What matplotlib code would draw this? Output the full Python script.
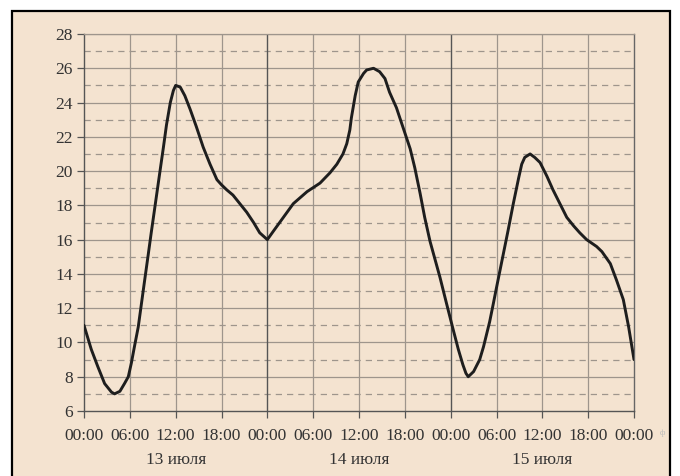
import matplotlib
matplotlib.use("Agg")
import matplotlib.pyplot as plt
from matplotlib.patches import Rectangle
from matplotlib.ticker import MultipleLocator, FixedLocator
import matplotlib.transforms as mtransforms

# ---- data (hours since 13 July 00:00, temperature) ----
hours = [0, 0.95, 1.8, 2.7, 3.6, 4.0, 4.7, 5.3, 5.8, 6.2, 6.6, 7.1, 7.5, 7.9,
         8.4, 8.8, 9.95, 10.4, 10.8, 11.3, 11.7, 12.0, 12.6, 13.2, 13.9, 14.7,
         15.6, 16.5, 17.4, 18.0, 18.7, 19.5, 20.4, 21.3, 22.2, 23.0, 24.0,
         24.8, 26.1, 27.4, 29.2, 30.9, 32.2, 33.1, 33.9, 34.4, 34.8, 35.0,
         35.5, 35.9, 36.6, 37.0, 37.9, 38.7, 39.4, 40.0, 40.9, 41.8, 42.7,
         43.3, 44.0, 44.6, 45.3, 46.6, 47.5, 48.3, 49.0, 49.6, 50.0, 50.3,
         51.0, 51.8, 52.3, 53.1, 53.6, 54.0, 54.5, 55.0, 55.5, 56.2, 56.9,
         57.3, 57.7, 58.4, 59.0, 59.7, 60.6, 61.4, 62.3, 63.2, 64.1, 64.9,
         65.8, 67.1, 67.8, 68.9, 69.7, 70.6, 71.3, 72.0]
temps = [11.0, 9.6, 8.6, 7.6, 7.1, 7.0, 7.15, 7.6, 8.0, 8.8, 9.75, 10.9, 12.2, 13.5,
         15.1, 16.4, 20.0, 21.4, 22.7, 24.0, 24.7, 25.0, 24.9, 24.4, 23.6, 22.6,
         21.4, 20.4, 19.5, 19.2, 18.9, 18.6, 18.1, 17.6, 17.0, 16.4, 16.0,
         16.5, 17.3, 18.1, 18.8, 19.3, 19.9, 20.4, 21.0, 21.6, 22.4, 23.1,
         24.4, 25.2, 25.7, 25.9, 26.0, 25.8, 25.4, 24.6, 23.7, 22.5, 21.3,
         20.2, 18.7, 17.3, 15.9, 13.8, 12.2, 10.8, 9.6, 8.7, 8.2, 8.0,
         8.3, 9.0, 9.75, 11.2, 12.3, 13.2, 14.3, 15.4, 16.5, 18.1, 19.6,
         20.4, 20.8, 21.0, 20.8, 20.5, 19.7, 18.9, 18.1, 17.3, 16.8, 16.4,
         16.0, 15.6, 15.3, 14.6, 13.65, 12.5, 10.9, 9.0]
xtick_labels = ["00:00", "06:00", "12:00", "18:00", "00:00", "06:00", "12:00",
                "18:00", "00:00", "06:00", "12:00", "18:00", "00:00"]
day_labels = ["13 июля", "14 июля", "15 июля"]
day_centers = [12, 36, 60]

W, H = 680, 476
BG = "#F4E3D0"
GRID = "#9E958C"
TXT = "#333333"
FONT = ["Liberation Serif", "DejaVu Serif"]
FS = 12.5

fig = plt.figure(figsize=(W / 100, H / 100), dpi=100)
fig.patch.set_facecolor("white")

rect = Rectangle((12 / W, -0.05), (670 - 12) / W, 1 - 11 / H + 0.05,
                 transform=fig.transFigure, facecolor=BG, edgecolor="black",
                 linewidth=1.6, zorder=-10)
fig.patches.append(rect)

ax = fig.add_axes([84 / W, 65 / H, 550 / W, 377 / H])
ax.set_facecolor(BG)

ax.set_xlim(0, 72)
ax.set_ylim(6, 28)

# grid: solid at even, dashed at odd
for v in range(8, 29, 2):
    ax.axhline(v, color=GRID, lw=0.9, zorder=1)
for v in range(7, 28, 2):
    ax.axhline(v, color=GRID, lw=0.9, ls=(0, (5, 4)), zorder=1)
for h in range(6, 72, 6):
    if h % 24 == 0:
        ax.axvline(h, color="#555555", lw=1.0, zorder=1)
    else:
        ax.axvline(h, color=GRID, lw=0.9, zorder=1)

ax.plot(hours, temps, color="#1E1E1E", lw=2.1, solid_joinstyle="round",
        solid_capstyle="round", zorder=3)

for s in ["left", "bottom"]:
    ax.spines[s].set_color("#555555")
    ax.spines[s].set_linewidth(1.0)
ax.spines["right"].set_color("#666666")
ax.spines["right"].set_linewidth(1.0)
ax.spines["top"].set_color(GRID)
ax.spines["top"].set_linewidth(0.9)

ax.xaxis.set_major_locator(FixedLocator(list(range(0, 73, 6))))
ax.set_xticklabels(xtick_labels)
ax.yaxis.set_major_locator(MultipleLocator(2))
ax.tick_params(axis="both", direction="out", length=5, width=0.9,
               color="#555555", labelcolor=TXT, labelsize=FS)
ax.tick_params(axis="x", pad=7)
ax.tick_params(axis="y", pad=3)
for lab in ax.get_xticklabels() + ax.get_yticklabels():
    lab.set_family(FONT)

trans = mtransforms.blended_transform_factory(ax.transData, fig.transFigure)
for c, d in zip(day_centers, day_labels):
    ax.text(c, 1 - 460 / H, d, transform=trans, ha="center", va="center",
            fontsize=FS, color=TXT, family=FONT)

fig.text(662 / W, 1 - 433 / H, "ф", fontsize=6, color="#BBBBBB",
         ha="center", va="center", family=FONT)

fig.savefig("out.png", dpi=100, facecolor="white")
